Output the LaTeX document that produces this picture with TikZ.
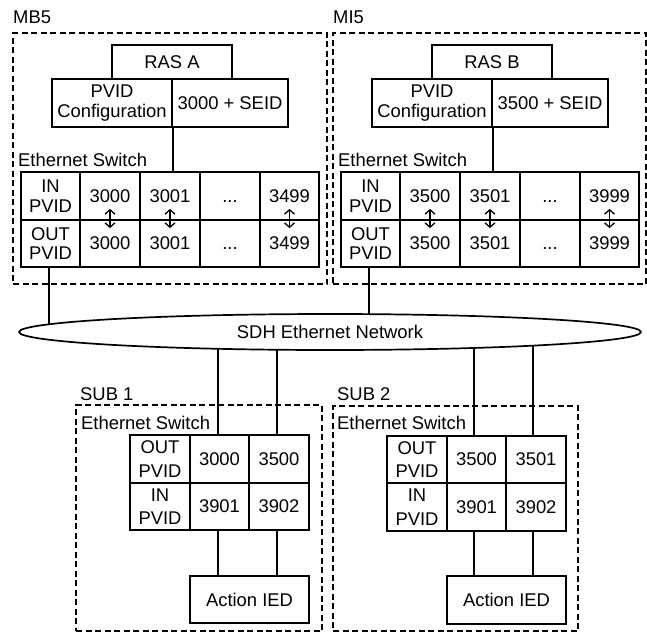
\documentclass[tikz,border=0pt]{standalone}
\usepackage{fontspec}
\setmainfont{Liberation Sans}
\usetikzlibrary{shapes.geometric,arrows.meta}
\newcommand{\fsA}{\fontsize{18.4}{19.5}\selectfont}
\newcommand{\fsB}{\fontsize{18.4}{23.5}\selectfont}
\newcommand{\dts}{\vphantom{0}...}
\newcommand{\mkbox}[7][]{\node[box,#1,minimum width={#5-#3},minimum height={#6-#4}] (#2) at ({(#3+#5)/2},{(#4+#6)/2}) {#7};}
\begin{document}
\begin{tikzpicture}[x=1pt,y=-1pt,
  box/.style={draw,line width=1.7pt,inner sep=0pt,align=center,font=\fsA},
  subbox/.style={font=\fsB},
  grp/.style={draw,line width=1.3pt,dash pattern=on 6pt off 3.5pt,inner sep=0pt},
  lbl/.style={anchor=west,inner sep=0pt,font=\fsA},
  ln/.style={line width=1.7pt},
  dbl/.style={line width=1.3pt,{Straight Barb[length=4.5pt,width=10pt]}-{Straight Barb[length=4.5pt,width=10pt]}}]
\useasboundingbox (0,0) rectangle (647,632);
% ---------- MB5 ----------
\node[grp,minimum width=314,minimum height=251] (mb5) at (170,158.5) {};
\node[lbl] (lmb5) at (13,17.5) {MB5};
\mkbox{rasA}{112}{45}{232}{79}{RAS A}
\mkbox{cfgA}{52}{79}{172}{127}{PVID\\Configuration}
\mkbox{seidA}{172}{79}{288}{127}{3000 + SEID}
\node[lbl] (esA) at (18,160) {Ethernet Switch};
\mkbox{a11}{21}{172}{80}{220}{IN\\PVID}
\mkbox{a12}{80}{172}{140}{220}{3000}
\mkbox{a13}{140}{172}{200}{220}{3001}
\mkbox{a14}{200}{172}{260}{220}{\dts}
\mkbox{a15}{260}{172}{319}{220}{3499}
\mkbox{a21}{21}{220}{80}{267}{OUT\\PVID}
\mkbox{a22}{80}{220}{140}{267}{3000}
\mkbox{a23}{140}{220}{200}{267}{3001}
\mkbox{a24}{200}{220}{260}{267}{\dts}
\mkbox{a25}{260}{220}{319}{267}{3499}
\draw[ln] (cfgA.south east) -- (cfgA.south east |- a13.north);
\foreach \c in {2,3,5}{\draw[dbl] ([yshift=12pt]a1\c.south) -- ([yshift=-9pt]a2\c.north);}
% ---------- MI5 ----------
\node[grp,minimum width=313,minimum height=251] (mi5) at (489.5,158.5) {};
\node[lbl] (lmi5) at (333,17.5) {MI5};
\mkbox{rasB}{432}{45}{552}{79}{RAS B}
\mkbox{cfgB}{372}{79}{492}{127}{PVID\\Configuration}
\mkbox{seidB}{492}{79}{608}{127}{3500 + SEID}
\node[lbl] (esB) at (338,160) {Ethernet Switch};
\mkbox{b11}{341}{172}{400}{220}{IN\\PVID}
\mkbox{b12}{400}{172}{460}{220}{3500}
\mkbox{b13}{460}{172}{520}{220}{3501}
\mkbox{b14}{520}{172}{580}{220}{\dts}
\mkbox{b15}{580}{172}{639}{220}{3999}
\mkbox{b21}{341}{220}{400}{267}{OUT\\PVID}
\mkbox{b22}{400}{220}{460}{267}{3500}
\mkbox{b23}{460}{220}{520}{267}{3501}
\mkbox{b24}{520}{220}{580}{267}{\dts}
\mkbox{b25}{580}{220}{639}{267}{3999}
\draw[ln] (cfgB.south east) -- (cfgB.south east |- b13.north);
\foreach \c in {2,3,5}{\draw[dbl] ([yshift=12pt]b1\c.south) -- ([yshift=-9pt]b2\c.north);}
% ---------- network ----------
\node[ellipse,draw,line width=1.7pt,minimum width=622,minimum height=36,inner sep=0pt,font=\fsA] (net) at (330,332) {SDH Ethernet Network};
\coordinate (e1) at (49,324.3);
\coordinate (e2) at (369,314.1);
\coordinate (s1a) at (218,348.8);
\coordinate (s1b) at (277,349.7);
\coordinate (s2a) at (474,348);
\coordinate (s2b) at (533,345.6);
\draw[ln] (a21.south -| e1) -- (e1);
\draw[ln] (b21.south -| e2) -- (e2);
% ---------- SUB 1 ----------
\node[grp,minimum width=246,minimum height=226] (sub1) at (199,518) {};
\node[lbl] (lsub1) at (80,394.5) {SUB 1};
\node[lbl] (esC) at (81,423) {Ethernet Switch};
\mkbox[subbox]{c11}{130}{435}{190}{483}{OUT\\PVID}
\mkbox[subbox]{c12}{190}{435}{249}{483}{3000}
\mkbox[subbox]{c13}{249}{435}{309}{483}{3500}
\mkbox[subbox]{c21}{130}{483}{190}{530}{IN\\PVID}
\mkbox[subbox]{c22}{190}{483}{249}{530}{3901}
\mkbox[subbox]{c23}{249}{483}{309}{530}{3902}
\mkbox{ied1}{190}{576}{309}{623}{Action IED}
\draw[ln] (s1a) -- (s1a |- c12.north);
\draw[ln] (s1b) -- (s1b |- c13.north);
\draw[ln] (s1a |- c22.south) -- (s1a |- ied1.north);
\draw[ln] (s1b |- c23.south) -- (s1b |- ied1.north);
% ---------- SUB 2 ----------
\node[grp,minimum width=245,minimum height=225] (sub2) at (455.5,518.5) {};
\node[lbl] (lsub2) at (337,394.5) {SUB 2};
\node[lbl] (esD) at (337,423) {Ethernet Switch};
\mkbox[subbox]{d11}{387}{436}{447}{483}{OUT\\PVID}
\mkbox[subbox]{d12}{447}{436}{506}{483}{3500}
\mkbox[subbox]{d13}{506}{436}{566}{483}{3501}
\mkbox[subbox]{d21}{387}{483}{447}{531}{IN\\PVID}
\mkbox[subbox]{d22}{447}{483}{506}{531}{3901}
\mkbox[subbox]{d23}{506}{483}{566}{531}{3902}
\mkbox{ied2}{447}{576}{566}{624}{Action IED}
\draw[ln] (s2a) -- (s2a |- d12.north);
\draw[ln] (s2b) -- (s2b |- d13.north);
\draw[ln] (s2a |- d22.south) -- (s2a |- ied2.north);
\draw[ln] (s2b |- d23.south) -- (s2b |- ied2.north);
\end{tikzpicture}
\end{document}
